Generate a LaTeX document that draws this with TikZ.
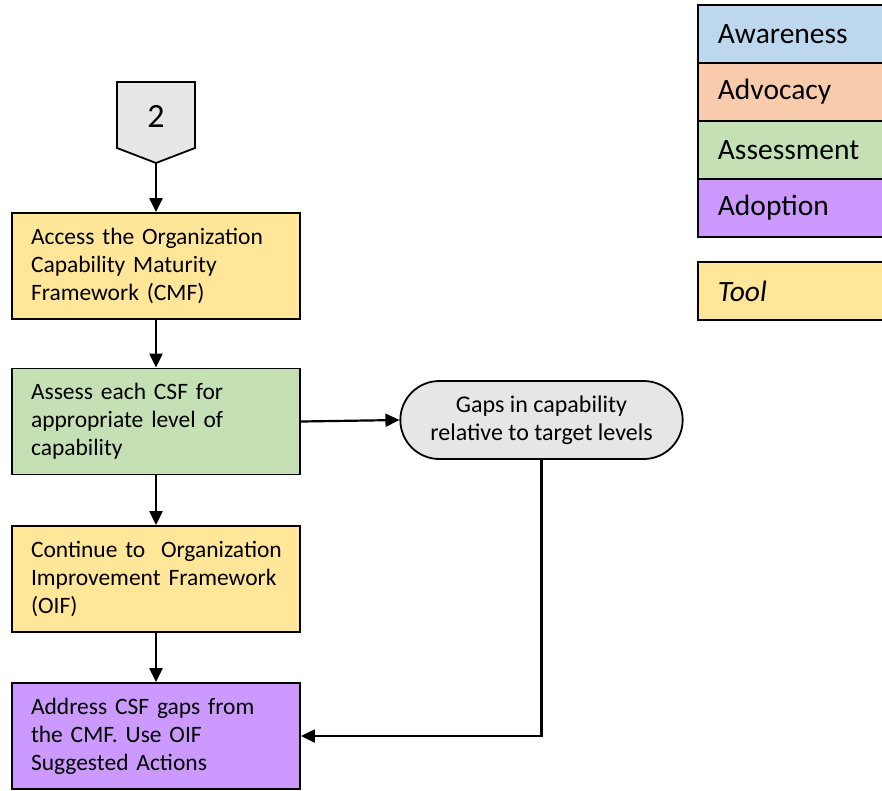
\documentclass[tikz,border=0pt]{standalone}
\usepackage{fontspec}
\setmainfont{Carlito}
\usetikzlibrary{arrows.meta,shapes.misc}
\definecolor{toolyellow}{HTML}{FFE699}
\definecolor{assessgreen}{HTML}{C5E0B4}
\definecolor{adoptpurple}{HTML}{CC99FF}
\definecolor{awareblue}{HTML}{BDD7EE}
\definecolor{advocorange}{HTML}{F8CBAD}
\definecolor{gapgray}{HTML}{E7E6E6}
\tikzset{
  stepbox/.style={draw,line width=1.8pt,rectangle,minimum width=288,minimum height=106,
    text width=250,align=left,inner xsep=19,font=\fontsize{23.5}{28}\selectfont},
  legendbox/.style={draw,line width=1.8pt,rectangle,anchor=north west,minimum width=220,
    minimum height=58,text width=180,align=left,inner xsep=20,font=\fontsize{29.5}{34}\selectfont},
  flow/.style={line width=2.2pt,-{Triangle[length=14,width=13]}}
}
\begin{document}
\begin{tikzpicture}[x=1pt,y=-1pt]
            \clip (0,0) rectangle (882,790);
            % start marker
            \draw[line width=1.8pt,fill=gapgray] (117,82) -- (195,82) -- (195,148) -- (156,163) -- (117,148) -- cycle;
            \node (start) at (156,116) {\fontsize{34}{40}\selectfont 2};
            \coordinate (starttip) at (156,163);
            % steps
            \node[stepbox,fill=toolyellow] (access) at (156,266) {Access the Organization\\Capability Maturity\\Framework (CMF)};
            \node[stepbox,fill=assessgreen] (assess) at (156,421.5) {Assess each CSF for\\appropriate level of\\capability};
            \node[stepbox,fill=toolyellow] (continue) at (156,579) {\mbox{Continue to~ Organization}\\Improvement Framework\\(OIF)};
            \node[stepbox,fill=adoptpurple] (address) at (156,736) {Address CSF gaps from\\the CMF. Use OIF\\Suggested Actions};
            \node[draw,line width=1.8pt,fill=gapgray,rounded rectangle,minimum width=289,minimum height=78,
                align=center,font=\fontsize{24}{28}\selectfont] (gaps) at (541.5,420) {Gaps in capability\\relative to target levels};
            \draw[flow] (starttip) -- (access);
            \draw[flow] (access) -- (assess);
            \draw[flow] (assess) -- (continue);
            \draw[flow] (continue) -- (address);
            \draw[flow] (assess.east) -- (gaps.west);
            \draw[flow] (gaps.south) |- (address.east);
            % legend
            \foreach \name/\col [count=\i] in {Awareness/awareblue,Advocacy/advocorange,Assessment/assessgreen,Adoption/adoptpurple}
            {
                \node[legendbox,fill=\col] (legend\i) at (697,4+58*\i-58) {\name};
            }
            \node[legendbox,fill=toolyellow] (legendtool) at (697,261) {\itshape Tool};
\end{tikzpicture}
\end{document}
